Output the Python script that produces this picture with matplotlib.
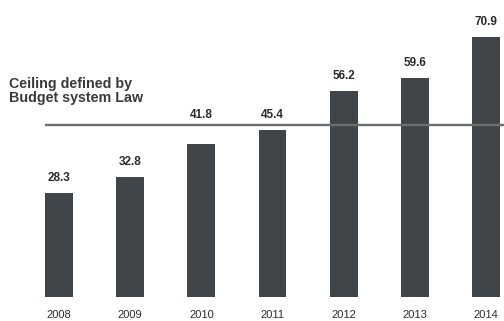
import numpy as np
import matplotlib.pyplot as plt

plt.rcParams['font.family'] = ['Liberation Sans', 'DejaVu Sans']

years = ['2008', '2009', '2010', '2011', '2012', '2013', '2014']
values = [28.3, 32.8, 41.8, 45.4, 56.2, 59.6, 70.9]
ceiling = 46.8
ceiling_label = 'Ceiling defined by\nBudget system Law'

bar_color = '#3f4549'
text_color = '#2b2b2b'
line_color = '#6e6e6e'

fig = plt.figure(figsize=(5.04, 3.21), dpi=100)
ax = fig.add_axes([0, 0.076, 1, 0.924])

x = np.arange(len(years))
width = 0.39
ax.bar(x, values, width=width, color=bar_color, zorder=2)

# ceiling line sits on top of the bars
ax.hlines(ceiling, x[0] - width / 2, 6.4, color=line_color, lw=1.7, zorder=3)

for xi, v in zip(x, values):
    if ceiling - 8 < v < ceiling:
        # bars just under the line get their label lifted above it
        ax.annotate(f'{v:.1f}', (xi, ceiling), xytext=(0, 3), textcoords='offset points',
                    ha='center', va='bottom', fontsize=8.5, fontweight='bold', color=text_color)
    else:
        ax.annotate(f'{v:.1f}', (xi, v), xytext=(0, 6.5), textcoords='offset points',
                    ha='center', va='bottom', fontsize=8.5, fontweight='bold', color=text_color)

ax.text(-0.70, 52.3, ceiling_label, ha='left', va='bottom', fontsize=10.3,
        fontweight='bold', color='#3a3a3a', linespacing=1.05)

ax.set_xlim(-0.829, 6.253)
ax.set_ylim(0, 81.04)
ax.set_xticks(x)
ax.set_xticklabels(years, fontsize=8, color=text_color)
ax.tick_params(axis='x', length=0, pad=10)
ax.set_yticks([])
for s in ax.spines.values():
    s.set_visible(False)

fig.savefig('out.png', dpi=100)
